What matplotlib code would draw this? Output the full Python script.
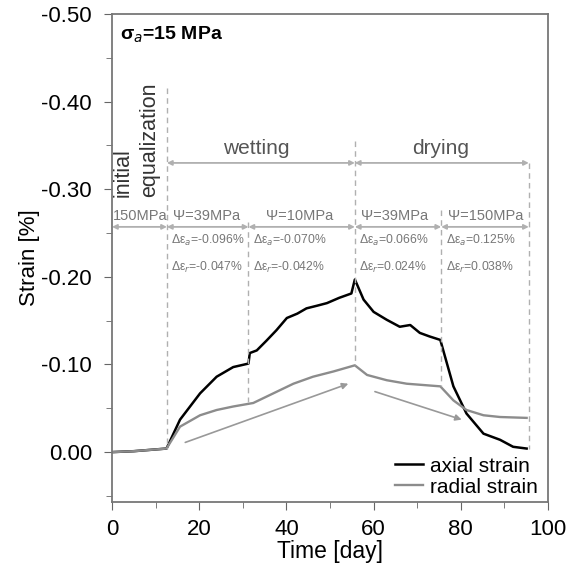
import matplotlib.pyplot as plt

plt.rcParams['font.family'] = ['Liberation Sans', 'DejaVu Sans']

# axial strain (%), negative = compression shown upward
axial_t = [0.3, 5, 12.5, 15.6, 20.2, 24, 27.8, 31.3, 31.6, 33.2, 35.4, 37.7, 40.1, 42.5, 44.6,
           47, 49.3, 52.1, 54.9, 55.7, 57.7, 60, 63, 66, 68.4, 70.6, 72.8, 75.3,
           78.3, 81.3, 85.2, 89, 92, 95.1]
axial_e = [0.0, -0.001, -0.004, -0.037, -0.067, -0.086, -0.097, -0.101, -0.113, -0.116, -0.127,
           -0.139, -0.153, -0.158, -0.164, -0.167, -0.170, -0.176, -0.181, -0.197, -0.174,
           -0.160, -0.151, -0.143, -0.145, -0.136, -0.132, -0.128,
           -0.075, -0.044, -0.021, -0.014, -0.006, -0.004]

radial_t = [0.3, 5, 12.5, 15.6, 20.2, 24, 27.8, 32.4, 37, 41.6, 46.1, 50.8, 55.7, 58.5,
            63, 67.6, 75.3, 78.3, 81.3, 85.2, 89, 95.1]
radial_e = [0.0, -0.001, -0.004, -0.029, -0.042, -0.048, -0.052, -0.056, -0.067, -0.078,
            -0.086, -0.092, -0.099, -0.088, -0.082, -0.078, -0.075, -0.059, -0.048,
            -0.042, -0.040, -0.039]

# stage boundaries (days) and where each dashed line starts/stops
bounds = [12.6, 31.3, 55.7, 75.5, 95.6]
bound_top = [-0.415, -0.263, -0.355, -0.276, -0.33]
bound_bot = [-0.004, -0.057, -0.099, -0.075, -0.004]

suction = ['150MPa', 'Ψ=39MPa', 'Ψ=10MPa', 'Ψ=39MPa', 'Ψ=150MPa']
suction_x = [6.4, 21.7, 43.1, 64.7, 85.6]
d_axial = ['-0.096%', '-0.070%', '0.066%', '0.125%']
d_radial = ['-0.047%', '-0.042%', '0.024%', '0.038%']

fig = plt.figure(figsize=(5.81, 5.68), dpi=100)
ax = fig.add_axes([0.1928, 0.1162, 0.7504, 0.8592])

ax.plot(axial_t, axial_e, color='black', lw=1.8, label='axial strain')
ax.plot(radial_t, radial_e, color='#8c8c8c', lw=1.7, label='radial strain')

grey = '#b0b0b0'
for b, t, bt in zip(bounds, bound_top, bound_bot):
    ax.plot([b, b], [t, bt], ls='--', color=grey, lw=1, dashes=(4, 3))

arr = dict(arrowstyle='<|-|>', color=grey, lw=1.3, mutation_scale=7, shrinkA=0, shrinkB=0)
# wetting / drying
ax.annotate('', xy=(bounds[0], -0.33), xytext=(bounds[2], -0.33), arrowprops=arr)
ax.annotate('', xy=(bounds[2], -0.33), xytext=(bounds[4], -0.33), arrowprops=arr)
ax.text(33, -0.336, 'wetting', ha='center', va='bottom', fontsize=15, color='#555555')
ax.text(75.3, -0.336, 'drying', ha='center', va='bottom', fontsize=15, color='#555555')

# stage arrows
edges = [0] + bounds
for i in range(5):
    ax.annotate('', xy=(edges[i], -0.257), xytext=(edges[i + 1], -0.257), arrowprops=arr)
    ax.text(suction_x[i], -0.261, suction[i], ha='center', va='bottom', fontsize=10.5,
            color='#777777')
for i in range(4):
    ax.text(bounds[i] + 1.0, -0.242, 'Δε$_a$=' + d_axial[i], ha='left', va='center',
            fontsize=8.8, color='#777777')
    ax.text(bounds[i] + 1.0, -0.211, 'Δε$_r$=' + d_radial[i], ha='left', va='center',
            fontsize=8.8, color='#777777')

ax.text(3.7, -0.291, 'initial', rotation=90, rotation_mode='anchor', ha='left',
        va='baseline', fontsize=15.5, color='#333333')
ax.text(9.9, -0.291, 'equalization', rotation=90, rotation_mode='anchor', ha='left',
        va='baseline', fontsize=15.5, color='#333333')

# trend arrows
tr = dict(arrowstyle='-|>', color='#999999', lw=1.2, mutation_scale=9, shrinkA=0, shrinkB=0)
ax.annotate('', xy=(54.2, -0.078), xytext=(16.8, -0.011), arrowprops=tr)
ax.annotate('', xy=(80.2, -0.037), xytext=(60.3, -0.069), arrowprops=tr)

ax.text(1.8, -0.476, 'σ$_a$=15 MPa', fontsize=14, fontweight='bold', va='center')

ax.set_xlim(0, 100)
ax.set_ylim(0.057, -0.5)
ax.set_xticks(range(0, 101, 20))
ax.set_xticks(range(0, 101, 10), minor=True)
ax.set_yticks([0.0, -0.1, -0.2, -0.3, -0.4, -0.5])
ax.set_yticks([0.05, -0.05, -0.15, -0.25, -0.35, -0.45], minor=True)
ax.set_yticklabels(['0.00', '-0.10', '-0.20', '-0.30', '-0.40', '-0.50'])
ax.tick_params(which='both', direction='out', labelsize=16, color='#666666')
ax.tick_params(which='major', length=6)
ax.tick_params(which='minor', length=4)
ax.tick_params(axis='x', pad=6.5)
ax.tick_params(axis='y', pad=8.4)
for s in ax.spines.values():
    s.set_color('#777777')
    s.set_linewidth(1.3)

ax.set_xlabel('Time [day]', fontsize=16.5, labelpad=0)
ax.set_ylabel('Strain [%]', fontsize=16, labelpad=1)
ax.legend(loc='lower right', frameon=False, fontsize=15, handlelength=1.35,
          bbox_to_anchor=(0.995, -0.006), borderaxespad=0, labelspacing=0.1,
          handletextpad=0.3)

fig.savefig('out.png', dpi=100)
